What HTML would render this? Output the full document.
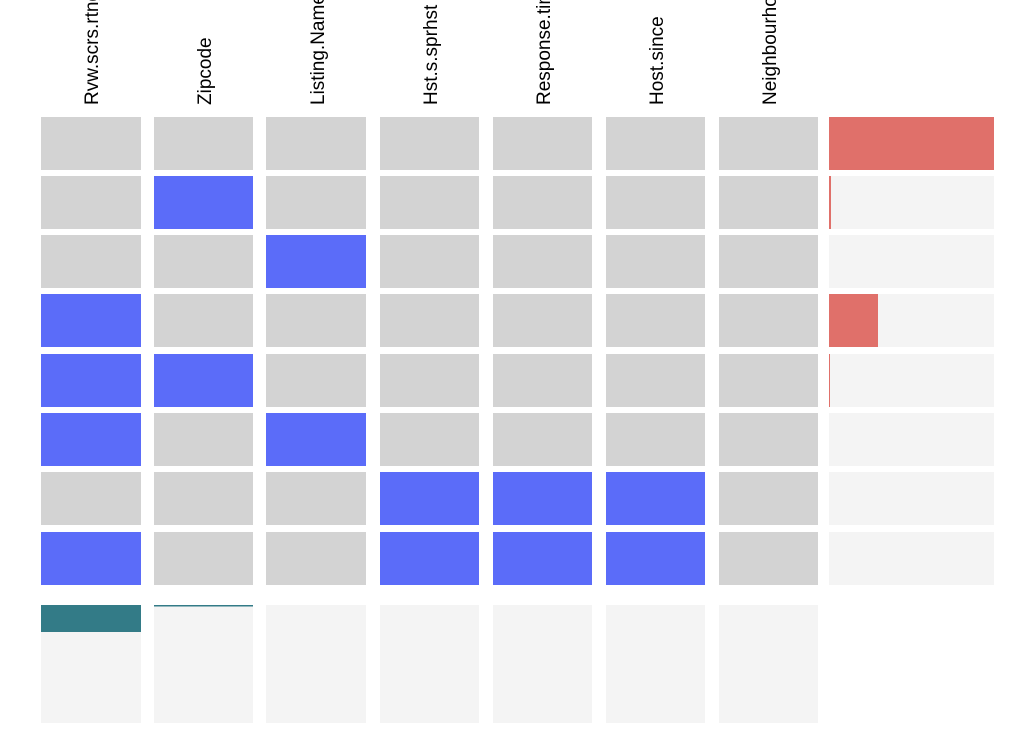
<!DOCTYPE html><html><head><meta charset="utf-8"><style>body{margin:0;background:#fff}</style></head><body>
<svg width="1023" height="731" xmlns="http://www.w3.org/2000/svg" font-family="Liberation Sans, sans-serif">
<g font-size="19" fill="#000">
<text transform="translate(98,105) rotate(-90)">Rvw.scrs.rtng</text>
<text transform="translate(211,105) rotate(-90)">Zipcode</text>
<text transform="translate(324,105) rotate(-90)">Listing.Name</text>
<text transform="translate(437,105) rotate(-90)">Hst.s.sprhst</text>
<text transform="translate(550,105) rotate(-90)">Response.time</text>
<text transform="translate(663,105) rotate(-90)">Host.since</text>
<text transform="translate(776,105) rotate(-90)">Neighbourhood</text>
</g>
<g fill="#d3d3d3">
<rect x="41" y="117" width="100" height="53"/><rect x="154" y="117" width="99" height="53"/><rect x="266" y="117" width="100" height="53"/><rect x="380" y="117" width="99" height="53"/><rect x="493" y="117" width="99" height="53"/><rect x="606" y="117" width="99" height="53"/><rect x="719" y="117" width="99" height="53"/>
<rect x="41" y="176" width="100" height="53"/><rect x="266" y="176" width="100" height="53"/><rect x="380" y="176" width="99" height="53"/><rect x="493" y="176" width="99" height="53"/><rect x="606" y="176" width="99" height="53"/><rect x="719" y="176" width="99" height="53"/>
<rect x="41" y="235" width="100" height="53"/><rect x="154" y="235" width="99" height="53"/><rect x="380" y="235" width="99" height="53"/><rect x="493" y="235" width="99" height="53"/><rect x="606" y="235" width="99" height="53"/><rect x="719" y="235" width="99" height="53"/>
<rect x="154" y="294" width="99" height="53"/><rect x="266" y="294" width="100" height="53"/><rect x="380" y="294" width="99" height="53"/><rect x="493" y="294" width="99" height="53"/><rect x="606" y="294" width="99" height="53"/><rect x="719" y="294" width="99" height="53"/>
<rect x="266" y="354" width="100" height="53"/><rect x="380" y="354" width="99" height="53"/><rect x="493" y="354" width="99" height="53"/><rect x="606" y="354" width="99" height="53"/><rect x="719" y="354" width="99" height="53"/>
<rect x="154" y="413" width="99" height="53"/><rect x="380" y="413" width="99" height="53"/><rect x="493" y="413" width="99" height="53"/><rect x="606" y="413" width="99" height="53"/><rect x="719" y="413" width="99" height="53"/>
<rect x="41" y="472" width="100" height="53"/><rect x="154" y="472" width="99" height="53"/><rect x="266" y="472" width="100" height="53"/><rect x="719" y="472" width="99" height="53"/>
<rect x="154" y="532" width="99" height="53"/><rect x="266" y="532" width="100" height="53"/><rect x="719" y="532" width="99" height="53"/>
</g>
<g fill="#5b6cf9">
<rect x="154" y="176" width="99" height="53"/>
<rect x="266" y="235" width="100" height="53"/>
<rect x="41" y="294" width="100" height="53"/>
<rect x="41" y="354" width="100" height="53"/><rect x="154" y="354" width="99" height="53"/>
<rect x="41" y="413" width="100" height="53"/><rect x="266" y="413" width="100" height="53"/>
<rect x="380" y="472" width="99" height="53"/><rect x="493" y="472" width="99" height="53"/><rect x="606" y="472" width="99" height="53"/>
<rect x="41" y="532" width="100" height="53"/><rect x="380" y="532" width="99" height="53"/><rect x="493" y="532" width="99" height="53"/><rect x="606" y="532" width="99" height="53"/>
</g>
<g fill="#f4f4f4">
<rect x="829" y="176" width="165" height="53"/><rect x="829" y="235" width="165" height="53"/><rect x="829" y="294" width="165" height="53"/><rect x="829" y="354" width="165" height="53"/><rect x="829" y="413" width="165" height="53"/><rect x="829" y="472" width="165" height="53"/><rect x="829" y="532" width="165" height="53"/>
<rect x="41" y="605" width="100" height="118"/><rect x="154" y="605" width="99" height="118"/><rect x="266" y="605" width="100" height="118"/><rect x="380" y="605" width="99" height="118"/><rect x="493" y="605" width="99" height="118"/><rect x="606" y="605" width="99" height="118"/><rect x="719" y="605" width="99" height="118"/>
</g>
<g fill="#e0706a">
<rect x="829" y="117" width="165" height="53"/>
<rect x="829" y="176" width="2" height="53"/>
<rect x="829" y="294" width="49" height="53"/>
<rect x="829" y="354" width="1" height="53"/>
</g>
<rect x="41" y="605" width="100" height="27" fill="#337b87"/>
<rect x="154" y="605" width="99" height="1.5" fill="#337b87"/>
</svg></body></html>
